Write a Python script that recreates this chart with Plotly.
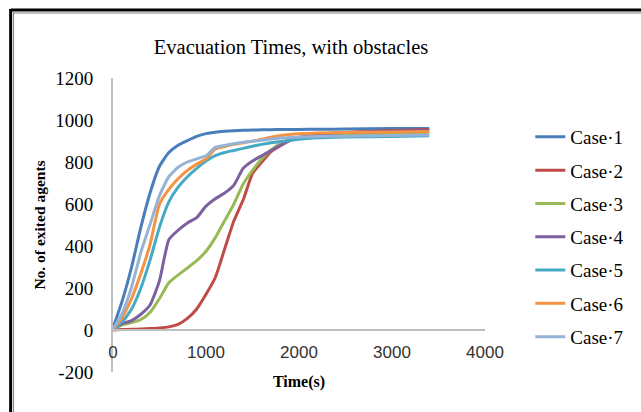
import plotly.graph_objects as go

t = [0, 100, 200, 300, 400, 500, 600, 700, 800, 900, 1000, 1100, 1200, 1300, 1400,
     1500, 1600, 1700, 1800, 1900, 2000, 2200, 2500, 3000, 3400]

case1 = [10, 140, 300, 490, 655, 780, 845, 880, 902, 922, 935, 942, 946, 949, 951,
         952, 953, 954, 955, 955, 955, 956, 957, 959, 960]
case2 = [0, 2, 3, 5, 7, 10, 15, 27, 55, 100, 170, 250, 385, 520, 620,
         745, 800, 850, 878, 903, 915, 932, 940, 950, 955]
case3 = [5, 25, 35, 50, 85, 150, 225, 262, 295, 330, 375, 440, 520, 600, 695,
         760, 815, 858, 888, 908, 918, 924, 930, 935, 938]
case4 = [5, 30, 45, 75, 120, 235, 430, 475, 510, 535, 590, 625, 652, 690, 770,
         805, 830, 855, 880, 902, 916, 930, 940, 946, 950]
case5 = [5, 40, 100, 200, 335, 490, 610, 680, 730, 770, 805, 830, 845, 855, 865,
         875, 884, 892, 898, 903, 908, 915, 919, 922, 925]
case6 = [5, 60, 150, 270, 410, 600, 670, 720, 760, 790, 815, 862, 874, 884, 892,
         899, 908, 918, 926, 931, 934, 938, 940, 943, 945]
case7 = [5, 80, 205, 370, 505, 640, 730, 775, 800, 815, 830, 870, 879, 887, 894,
         899, 904, 909, 914, 917, 919, 921, 923, 926, 928]

names = ["Case·1", "Case·2", "Case·3", "Case·4", "Case·5", "Case·6", "Case·7"]
series = [case1, case2, case3, case4, case5, case6, case7]
colors = ["#4A7EBB", "#BE4B48", "#98B954", "#7D60A0", "#46AAC5", "#F69240", "#94B3D6"]

SERIF = "Liberation Serif, DejaVu Serif, serif"

fig = go.Figure()
for i, (n, s, c) in enumerate(zip(names, series, colors)):
    fig.add_trace(go.Scatter(x=t, y=s, name=n, mode="lines",
                             line=dict(color=c, width=3, shape="spline", smoothing=0.5),
                             legendgroup=f"g{i}"))

# plot area pixels
L, R, T, B = 113, 491, 78, 372
W, H = 641, 412

def px(xp):
    return (xp - L) / (R - L)

def py(yp):
    return (B - yp) / (B - T)

fig.update_layout(
    width=W, height=H,
    margin=dict(l=L, r=W - R, t=T, b=H - B),
    paper_bgcolor="white", plot_bgcolor="white",
    title=dict(text="Evacuation Times, with obstacles", x=291 / W, xref="container",
               xanchor="center", y=1 - 47 / H, yanchor="middle",
               font=dict(family=SERIF, size=20.5, color="black")),
    showlegend=True,
    legend=dict(x=px(537), xanchor="left", y=py(118), yanchor="top",
                font=dict(family=SERIF, size=19, color="black"),
                tracegroupgap=5.6, itemwidth=30, bgcolor="rgba(0,0,0,0)"),
    xaxis=dict(range=[0, 4000], tickvals=[0, 1000, 2000, 3000, 4000],
               showgrid=False, zeroline=False, showline=True, linecolor="#BFBFBF",
               linewidth=2, anchor="free", position=py(330), ticks="",
               tickfont=dict(family="Liberation Sans, Arial, sans-serif", size=17, color="#333"),
               ticklabelstandoff=7,
               title=dict(text="<b>Time(s)</b>", font=dict(family=SERIF, size=16, color="black"),
                          standoff=13)),
    yaxis=dict(range=[-200, 1200], tickvals=[-200, 0, 200, 400, 600, 800, 1000, 1200],
               ticktext=["-200", "0", "200", "400", "600", "800", "1000", "1200"],
               showgrid=False, zeroline=False, showline=True, linecolor="#BFBFBF",
               linewidth=2, ticks="", domain=[0, 1],
               tickfont=dict(family=SERIF, size=19, color="black"),
               ticklabelstandoff=14,
               title=dict(text="<b>No. of exited agents</b>",
                          font=dict(family=SERIF, size=15.5, color="black"), standoff=6)),
)

# border (double line)
fig.add_shape(type="line", xref="paper", yref="paper", x0=px(9), x1=px(700), y0=py(10), y1=py(10),
              line=dict(color="black", width=3))
fig.add_shape(type="line", xref="paper", yref="paper", x0=px(12), x1=px(700), y0=py(13), y1=py(13),
              line=dict(color="#808080", width=1))
fig.add_shape(type="line", xref="paper", yref="paper", x0=px(9), x1=px(9), y0=py(9), y1=py(450),
              line=dict(color="black", width=3))
fig.add_shape(type="line", xref="paper", yref="paper", x0=px(12), x1=px(12), y0=py(12), y1=py(450),
              line=dict(color="#808080", width=1))

fig.write_html("out.html")
